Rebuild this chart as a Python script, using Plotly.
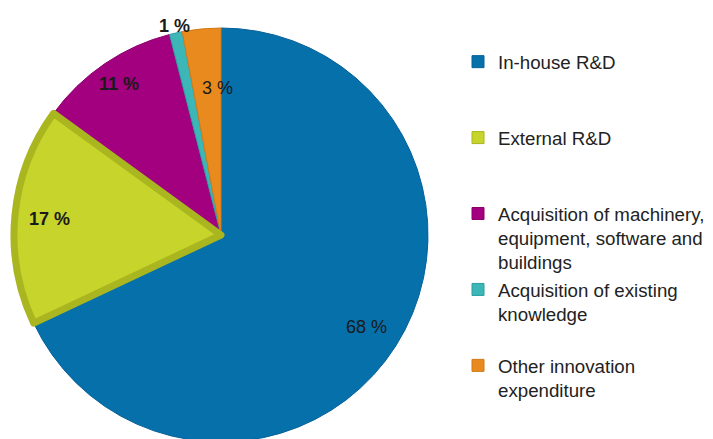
"""
Innovation expenditure by type - pie chart
"""
import numpy as np
import plotly.graph_objects as go

# data
labels = ['In-house R&D', 'External R&D',
          'Acquisition of machinery,<br>equipment, software and<br>buildings',
          'Acquisition of existing<br>knowledge',
          'Other innovation<br>expenditure']
values = [68, 17, 11, 1, 3]
value_text = ['68 %', '17 %', '11 %', '1 %', '3 %']

colors = ['#0570a9', '#c6d42c', '#a2007f', '#3db6b8', '#e98a1e']
line_colors = ['#05609a', '#a9b61f', '#8c006c', '#2a9fa0', '#d27a14']

# label placement (radius fraction, angle nudge in degrees, bold)
label_r = [0.83, 0.83, 0.88, 1.037, 0.71]
label_nudge = [0, 0, 0, 0, 4]
label_bold = [False, True, True, True, False]

W, H = 713, 439
# page body adds an 8px offset, so figure coords are window coords - 8
CX, TOP, R = 213, 20, 207
domain = dict(x=[(CX - R) / W, (CX + R) / W],
              y=[1 - (TOP + 2 * R) / H, 1 - TOP / H])

# pad every legend entry to three lines so that items are evenly spaced
legend_labels = [l + '<br> ' * (3 - (l.count('<br>') + 1)) for l in labels]

fig = go.Figure()

# main pie (also carries the legend)
fig.add_trace(go.Pie(
    labels=legend_labels,
    values=values,
    sort=False,
    direction='clockwise',
    rotation=0,
    textinfo='none',
    hoverinfo='label+percent',
    marker=dict(colors=colors, line=dict(color=line_colors, width=1)),
    domain=domain,
))

# overlay that only draws the thick olive edge of the External R&D slice
edge_fill = ['rgba(0,0,0,0)'] * len(values)
edge_fill[1] = colors[1]
edge_w = [0] * len(values)
edge_w[1] = 7
fig.add_trace(go.Pie(
    labels=legend_labels,
    values=values,
    sort=False,
    direction='clockwise',
    rotation=0,
    textinfo='none',
    hoverinfo='skip',
    showlegend=False,
    marker=dict(colors=edge_fill, line=dict(color=line_colors, width=edge_w)),
    domain=domain,
))

# value labels placed from slice angles
total = sum(values)
cum = np.cumsum([0] + values[:-1])
cy = TOP + R
for i, v in enumerate(values):
    theta = np.radians((cum[i] + v / 2) / total * 360 + label_nudge[i])
    r = label_r[i] * R
    px = CX + r * np.sin(theta)
    py = cy - r * np.cos(theta)
    txt = f'<b>{value_text[i]}</b>' if label_bold[i] else value_text[i]
    fig.add_annotation(
        x=px / W, y=1 - py / H, xref='paper', yref='paper',
        xanchor='center', yanchor='middle',
        text=txt, showarrow=False,
        font=dict(family='Liberation Sans, Arial', size=18, color='#1a1a1a'),
    )

fig.update_layout(
    width=W, height=H,
    margin=dict(l=0, r=0, t=0, b=0, autoexpand=False),
    paper_bgcolor='white',
    plot_bgcolor='white',
    showlegend=True,
    legend=dict(
        x=450 / W, y=1 - 35 / H, xanchor='left', yanchor='top',
        font=dict(family='Liberation Sans, Arial', size=18.7, color='#222222'),
        valign='top',
        bgcolor='rgba(0,0,0,0)',
    ),
)

fig.write_html('out.html')
